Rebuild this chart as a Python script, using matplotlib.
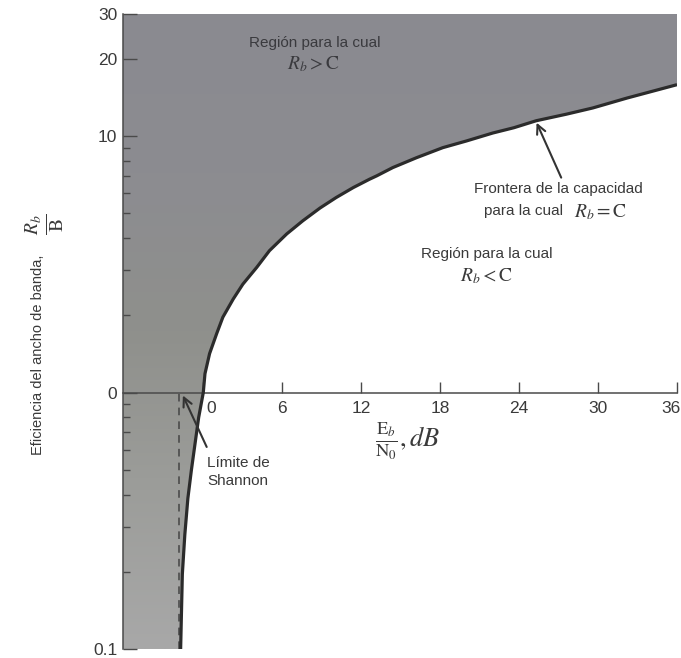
import numpy as np
import matplotlib
matplotlib.use("Agg")
import matplotlib.pyplot as plt
from matplotlib.ticker import FixedLocator, NullFormatter
from matplotlib.colors import LinearSegmentedColormap
from matplotlib.transforms import ScaledTranslation

plt.rcParams['font.family'] = ['Liberation Sans', 'DejaVu Sans']
plt.rcParams['mathtext.fontset'] = 'stix'

# ---- data ----
curve_x_db = [-1.72, -1.59, -1.40, -1.17, -0.90, -0.66, -0.35, 0.0, 0.13, 0.48, 1.02,
              1.49, 2.28, 3.01, 4.06, 5.03, 6.34, 7.56, 8.87, 10.1, 11.4, 12.63,
              13.18, 14.4, 16.2, 18.2, 20.0, 22.0, 23.6, 25.3, 27.6, 29.6, 32.2, 36.0]
curve_eff = [0.10, 0.196, 0.28, 0.387, 0.50, 0.614, 0.80, 1.0, 1.186, 1.42, 1.70,
             1.97, 2.32, 2.65, 3.08, 3.58, 4.16, 4.68, 5.25, 5.77, 6.31, 6.80,
             7.01, 7.55, 8.25, 9.03, 9.59, 10.3, 10.8, 11.5, 12.2, 12.9, 14.1, 15.9]
shannon_limit_db = -1.85
x_ticks = [0, 6, 12, 18, 24, 30, 36]
x_tick_labels = ['0', '6', '12', '18', '24', '30', '36']
y_ticks = [0.1, 1, 10, 20, 30]
y_tick_labels = ['0.1', '0', '10', '20', '30']
y_minor = [0.2, 0.3, 0.4, 0.5, 0.6, 0.7, 0.8, 0.9, 2, 3, 4, 5, 6, 7, 8, 9]
x_lim = (-6.1, 36)
y_lim = (0.1, 30)

W, H = 681, 658
fig = plt.figure(figsize=(W / 100, H / 100), dpi=100)
ax = fig.add_axes([123 / W, 9 / H, 554 / W, 635 / H])
ax.set_yscale('log')
ax.set_xlim(*x_lim)
ax.set_ylim(*y_lim)

ink = '#2b2b2b'
txt = '#3a3a3a'

# shaded region R_b > C
fill_x = [x_lim[0]] + curve_x_db + [x_lim[1], x_lim[0]]
fill_y = [y_lim[0]] + curve_eff + [y_lim[1], y_lim[1]]
poly = ax.fill(fill_x, fill_y, facecolor='#909094', edgecolor='none', zorder=1)[0]
cmap = LinearSegmentedColormap.from_list('scan', ['#a8a8a8', '#9c9d9a', '#8f908c', '#8c8c91', '#8a8a90'])
grad = np.linspace(0, 1, 256).reshape(-1, 1)
im = ax.imshow(grad, cmap=cmap, extent=[0, 1, 0, 1], transform=ax.transAxes,
               aspect='auto', origin='lower', zorder=1.5)
im.set_clip_path(poly)

# boundary curve
ax.plot(curve_x_db, curve_eff, color=ink, lw=2.3, zorder=4, solid_capstyle='butt',
        solid_joinstyle='round')

# Shannon limit dashed line
ax.plot([shannon_limit_db, shannon_limit_db], [y_lim[0], 1], color='#444444',
        lw=1.1, ls=(0, (5, 4)), zorder=3)

# spines
for s in ['top', 'right']:
    ax.spines[s].set_visible(False)
ax.spines['bottom'].set_position(('data', 1))
for s in ['bottom', 'left']:
    ax.spines[s].set_color('#4a4a4a')
    ax.spines[s].set_linewidth(1.1)
    ax.spines[s].set_zorder(3)

ax.set_xticks(x_ticks)
ax.set_xticklabels(x_tick_labels)
ax.set_yticks(y_ticks)
ax.set_yticklabels(y_tick_labels)
ax.yaxis.set_minor_locator(FixedLocator(y_minor))
ax.yaxis.set_minor_formatter(NullFormatter())
ax.tick_params(axis='x', direction='in', length=8, width=1.0, color='#4a4a4a',
               labelcolor=txt, labelsize=12.5, pad=6)
ax.tick_params(axis='y', which='major', direction='in', length=10, width=1.0,
               color='#4a4a4a', labelcolor=txt, labelsize=12.5, pad=4)
ax.tick_params(axis='y', which='minor', direction='in', length=5, width=1.0,
               color='#4a4a4a')

# nudge the "0" and "36" x labels as in the reference
xlabels = ax.get_xticklabels()
xlabels[0].set_transform(xlabels[0].get_transform() + ScaledTranslation(8 / 100, 0, fig.dpi_scale_trans))
xlabels[-1].set_transform(xlabels[-1].get_transform() + ScaledTranslation(-6 / 100, 0, fig.dpi_scale_trans))

def px(x, y):
    return x / W, 1 - y / H

# texts
fig.text(*px(315, 43), 'Región para la cual', ha='center', va='center', fontsize=11, color='#3a3a3e')
fig.text(*px(314, 64), r'$R_b > \mathrm{C}$', ha='center', va='center', fontsize=14, color='#3a3a3e')
fig.text(*px(558, 189), 'Frontera de la capacidad', ha='center', va='center', fontsize=11, color=txt)
fig.text(*px(524, 211), 'para la cual', ha='center', va='center', fontsize=11, color=txt)
fig.text(*px(601, 212), r'$R_b = \mathrm{C}$', ha='center', va='center', fontsize=14, color=txt)
fig.text(*px(487, 254), 'Región para la cual', ha='center', va='center', fontsize=11, color=txt)
fig.text(*px(487, 276), r'$R_b < \mathrm{C}$', ha='center', va='center', fontsize=14, color=txt)
fig.text(*px(207, 463), 'Límite de', ha='left', va='center', fontsize=11, color=txt)
fig.text(*px(207, 481), 'Shannon', ha='left', va='center', fontsize=11, color=txt)
fig.text(*px(408, 441), r'$\frac{\mathrm{E}_b}{\mathrm{N}_0}, dB$', ha='center', va='center', fontsize=19, color=txt)
fig.text(*px(38, 355), 'Eficiencia del ancho de banda,', rotation=90, ha='center', va='center', fontsize=10.5, color=txt)
fig.text(*px(45, 224), r'$\frac{R_b}{\mathrm{B}}$', rotation=90, ha='center', va='center', fontsize=20, color=txt)

# arrows
arrow = dict(arrowstyle='->', lw=1.5, color='#333333', mutation_scale=16, shrinkA=0, shrinkB=0)
ax.annotate('', xy=(25.33, 11.3), xytext=(27.2, 6.9), arrowprops=arrow, zorder=5)
ax.annotate('', xy=(-1.55, 0.975), xytext=(0.26, 0.614), arrowprops=arrow, zorder=5)

fig.savefig('out.png', dpi=100)
